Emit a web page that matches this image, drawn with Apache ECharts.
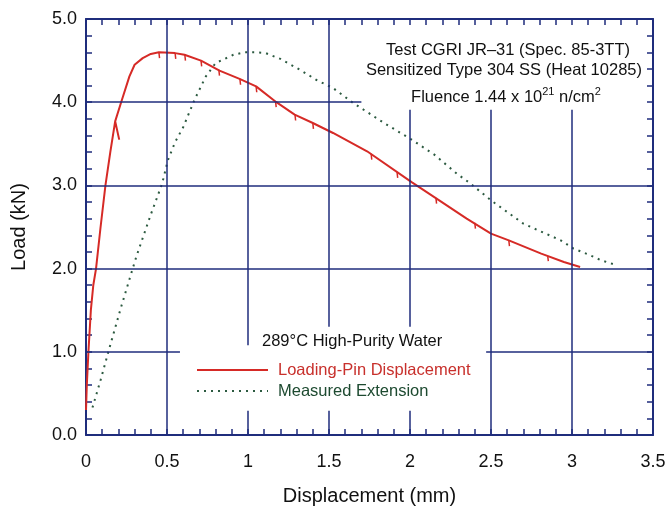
<!DOCTYPE html>
<html><head><meta charset="utf-8">
<script src="https://cdn.jsdelivr.net/npm/echarts@6/dist/echarts.min.js"></script>
<style>html,body{margin:0;padding:0;background:#fff}#c{width:668px;height:508px}</style>
</head><body><div id="c"></div>
<script>
// Loading-Pin Displacement (red solid)  [displacement mm, load kN]
var loadingPin = [[0.0,0.3],[0.005,0.6],[0.015,1.0],[0.03,1.5],[0.045,1.8],[0.062,2.0],[0.09,2.5],[0.12,3.0],[0.15,3.4],[0.18,3.77],[0.205,3.55],[0.18,3.77],[0.217,4.0],[0.268,4.31],[0.30,4.45],[0.35,4.53],[0.40,4.58],[0.45,4.60],[0.55,4.59],[0.608,4.57],[0.71,4.50],[0.824,4.38],[0.948,4.28],[1.05,4.19],[1.175,4.0],[1.288,3.85],[1.40,3.75],[1.525,3.63],[1.735,3.41],[2.01,3.04],[2.15,2.86],[2.35,2.60],[2.50,2.42],[2.61,2.34],[2.81,2.18],[2.95,2.08],[3.05,2.02]];
// small unloading marks on the loading-pin curve: [x, load at curve, load at hook tip]
var unloadMarks = [[0.45,4.60,4.53],[0.55,4.59,4.52],[0.61,4.57,4.50],[0.71,4.50,4.43],[0.82,4.39,4.32],[0.95,4.28,4.21],[1.05,4.19,4.12],[1.17,4.01,3.94],[1.29,3.85,3.78],[1.40,3.75,3.68],[1.76,3.38,3.31],[1.92,3.16,3.09],[2.16,2.85,2.78],[2.40,2.55,2.48],[2.61,2.34,2.27],[2.85,2.15,2.09]];
// Measured Extension (green dotted)
var measuredExt = [[0.04,0.33],[0.09,0.66],[0.138,1.0],[0.22,1.56],[0.31,2.14],[0.40,2.65],[0.47,3.02],[0.505,3.30],[0.55,3.52],[0.60,3.70],[0.67,4.03],[0.74,4.31],[0.80,4.47],[0.91,4.57],[0.98,4.60],[1.05,4.60],[1.11,4.59],[1.2,4.52],[1.32,4.39],[1.42,4.27],[1.525,4.17],[1.65,3.99],[1.84,3.75],[2.01,3.55],[2.15,3.37],[2.29,3.14],[2.375,3.02],[2.50,2.82],[2.70,2.54],[2.93,2.34],[3.01,2.24],[3.10,2.17],[3.18,2.10],[3.26,2.05]];
// Grid line segments (data coords) [x1,y1,x2,y2]
var gridSegments = [
  [0.5,0,0.5,5],
  [1.0,1.08,1.0,5],[1.0,0,1.0,0.29],
  [1.5,1.30,1.5,5],[1.5,0,1.5,0.29],
  [2.0,1.30,2.0,3.91],[2.0,0,2.0,0.29],
  [2.5,0,2.5,3.91],
  [3.0,0,3.0,3.91],
  [0,1,0.58,1],[2.47,1,3.5,1],
  [0,2,3.5,2],
  [0,3,3.5,3],
  [0,4,1.70,4]
];
var xTicks = {min:0, max:3.5, interval:0.5};
var yTicks = {min:0, max:5, interval:1};
var seriesNames = ['Loading-Pin Displacement','Measured Extension'];

var NAVY = '#1f2d7c';
var RED = '#d62a26';
var FONT = 'Liberation Sans, Arial, sans-serif';
var chart = echarts.init(document.getElementById('c'), null, {renderer:'canvas'});

function axisCommon(show) {
  return {
    axisLine:{show:true, onZero:false, lineStyle:{color:NAVY, width:2}},
    axisTick:{show:true, inside:true, length:6, lineStyle:{color:NAVY, width:1.5}},
    minorTick:{show:true, splitNumber:5, length:6, lineStyle:{color:NAVY, width:1.5}},
    splitLine:{show:false},
    axisLabel:{show:show, color:'#111', fontSize:18, fontFamily:FONT}
  };
}
var xb = Object.assign({type:'value', position:'bottom', min:xTicks.min, max:xTicks.max, interval:xTicks.interval,
  name:'Displacement (mm)', nameLocation:'middle', nameGap:51,
  nameTextStyle:{fontSize:20, color:'#111', fontFamily:FONT}}, axisCommon(true));
xb.axisLabel.margin = 18;
xb.axisLabel.formatter = function(v){ return v===0?'0':String(v); };
var xt = Object.assign({type:'value', position:'top', min:xTicks.min, max:xTicks.max, interval:xTicks.interval}, axisCommon(false));
var yl = Object.assign({type:'value', position:'left', min:yTicks.min, max:yTicks.max, interval:yTicks.interval,
  name:'Load (kN)', nameLocation:'middle', nameGap:57,
  nameTextStyle:{fontSize:20, color:'#111', fontFamily:FONT}}, axisCommon(true));
yl.axisLabel.margin = 9;
yl.axisLabel.formatter = function(v){ return v.toFixed(1); };
var yr = Object.assign({type:'value', position:'right', min:yTicks.min, max:yTicks.max, interval:yTicks.interval}, axisCommon(false));

var hookData = [];
unloadMarks.forEach(function(m){ hookData.push([m[0], m[1]], [m[0]+0.004, m[2]], null); });

var option = {
  backgroundColor:'#fff',
  animation:false,
  grid:{left:86, top:19, width:567, height:416, containLabel:false, outerBoundsMode:'none'},
  xAxis:[xb, xt],
  yAxis:[yl, yr],
  series:[
    {type:'line', data:[], z:1, silent:true,
     markLine:{silent:true, symbol:['none','none'], label:{show:false},
       lineStyle:{color:NAVY, width:1.5, type:'solid'},
       data: gridSegments.map(function(s){ return [{coord:[s[0],s[1]]},{coord:[s[2],s[3]]}]; })}},
    {name:seriesNames[0], type:'line', data:loadingPin, showSymbol:false, smooth:false, z:3,
     lineStyle:{color:RED, width:2}},
    {name:'unload marks', type:'line', data:hookData, showSymbol:false, connectNulls:false, z:3,
     lineStyle:{color:RED, width:1.5}},
    {name:seriesNames[1], type:'line', data:measuredExt, showSymbol:false, smooth:false, z:2,
     lineStyle:{color:'#2c5a40', width:2, type:[2,5]}}
  ],
  graphic:[
    {type:'text', style:{text:'Test CGRI JR\u201331 (Spec. 85-3TT)', x:630, y:50, align:'right', verticalAlign:'middle', font:'16.5px '+FONT, fill:'#111'}},
    {type:'text', style:{text:'Sensitized Type 304 SS (Heat 10285)', x:642, y:70, align:'right', verticalAlign:'middle', font:'16.5px '+FONT, fill:'#111'}},
    {type:'text', style:{text:'{a|Fluence 1.44 x 10}{s|21}{a| n/cm}{s|2}', x:506, y:96, align:'center', verticalAlign:'middle',
      rich:{a:{fontSize:16.5, fontFamily:FONT, fill:'#111', color:'#111', lineHeight:20, verticalAlign:'bottom'},
            s:{fontSize:11, fontFamily:FONT, fill:'#111', color:'#111', lineHeight:20, verticalAlign:'top'}}}},
    {type:'text', style:{text:'289\u00b0C High-Purity Water', x:262, y:341, align:'left', verticalAlign:'middle', font:'16.5px '+FONT, fill:'#111'}},
    {type:'line', shape:{x1:197, y1:370, x2:268, y2:370}, style:{stroke:RED, lineWidth:2}},
    {type:'text', style:{text:seriesNames[0], x:278, y:370, align:'left', verticalAlign:'middle', font:'16.5px '+FONT, fill:'#c8302c'}},
    {type:'line', shape:{x1:197, y1:391, x2:268, y2:391}, style:{stroke:'#2c5a40', lineWidth:2, lineDash:[2,5]}},
    {type:'text', style:{text:seriesNames[1], x:278, y:391, align:'left', verticalAlign:'middle', font:'16.5px '+FONT, fill:'#1d4a30'}}
  ]
};
chart.setOption(option);
</script></body></html>
